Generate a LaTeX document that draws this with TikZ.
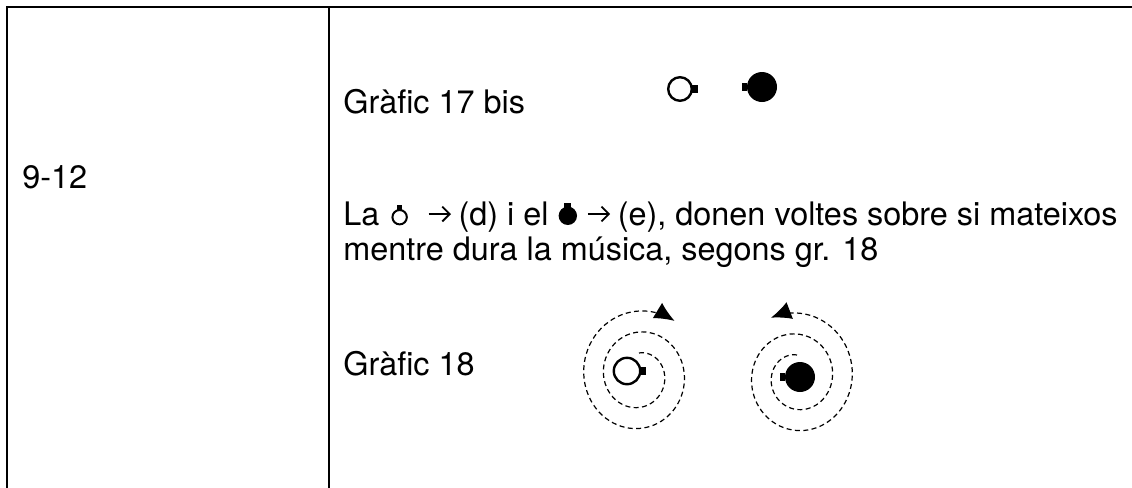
\documentclass[tikz,border=0pt]{standalone}
\usepackage{fontspec}
\setmainfont{TeX Gyre Heros}
\usetikzlibrary{arrows.meta}

% little dancers and arrow set inside the text line
\newcommand\whitemark{\tikz[baseline=0pt]{\draw[line width=1pt] (0,3.9pt) circle[radius=3.6pt]; \fill (-1.4pt,7.2pt) rectangle (1.4pt,10pt);}}
\newcommand\blackmark{\tikz[baseline=0pt]{\fill (0,4.6pt) circle[radius=4.6pt]; \fill (-1.7pt,8.4pt) rectangle (1.7pt,11.2pt);}}
\newcommand\toarrow{\tikz[baseline=0pt]{\draw[line width=.9pt] (0,5.5pt) -- (10.5pt,5.5pt); \draw[line width=.9pt] (6.8pt,9.2pt) -- (10.5pt,5.5pt) -- (6.8pt,1.8pt);}}

\begin{document}
\begin{tikzpicture}[x=.5pt, y=-.5pt,
	txt/.style={inner sep=0pt, anchor=base west, font=\fontsize{16.2}{17.5}\selectfont},
	rule/.style={line width=1pt},
	whitedancer/.style={circle, draw, line width=1.2pt, fill=white, inner sep=0pt, minimum size=#1},
	blackdancer/.style={circle, fill=black, inner sep=0pt, minimum size=#1},
	spiral/.style={line width=.6pt, dash pattern=on 2.5pt off 1.7pt, -{Latex[length=10pt,width=9pt]}}]
	\def\gap{.3pt}
	\useasboundingbox (0,0) rectangle (1132,488);

	% table
	\draw[rule] (1132,7) -- (7,7) -- (7,488);
	\draw[rule] (329,7) -- (329,488);

	\node[txt] (bars) at (22,188) {9-12};

	% grafic 17 bis
	\node[txt] (g17) at (343,113) {Gràfic 17 bis};
	\node[whitedancer=11.8pt] (w17) at (680,89) {};
	\fill ([xshift=-\gap, yshift=2pt]w17.east) rectangle ++(2.8pt,-4pt);
	\node[blackdancer=15pt] (b17) at (762,87) {};
	\fill ([xshift=\gap, yshift=2pt]b17.west) rectangle ++(-2.6pt,-4pt);

	\node[txt] (line1) at (343,225) {La\hspace{6pt}\whitemark\hspace{10pt}\toarrow\hspace{4pt}(d) i el\hspace{5pt}\blackmark\hspace{5pt}\toarrow\hspace{4pt}(e), donen voltes sobre si mateixos};
	\node[txt] (line2) at (343,260) {mentre dura la música, segons gr. 18};

	% grafic 18
	\node[txt] (g18) at (343,375) {Gràfic 18};
	\node[whitedancer=13.2pt] (w18) at (627,371) {};
	\fill ([xshift=-\gap, yshift=2pt]w18.east) rectangle ++(2.8pt,-4pt);
	\node[blackdancer=15pt] (b18) at (800,377) {};
	\fill ([xshift=\gap, yshift=2pt]b18.west) rectangle ++(-2.8pt,-4pt);

	\draw[spiral] plot[domain=0:755, samples=160, variable=\t]
		({639+0.94*(22+21*\t/360)*sin(\t)}, {375-(22+21*\t/360)*cos(\t)});
	\draw[spiral] plot[domain=0:745, samples=160, variable=\t]
		({797-0.94*(22+21*\t/360)*sin(\t)}, {377-(22+21*\t/360)*cos(\t)});
\end{tikzpicture}
\end{document}
